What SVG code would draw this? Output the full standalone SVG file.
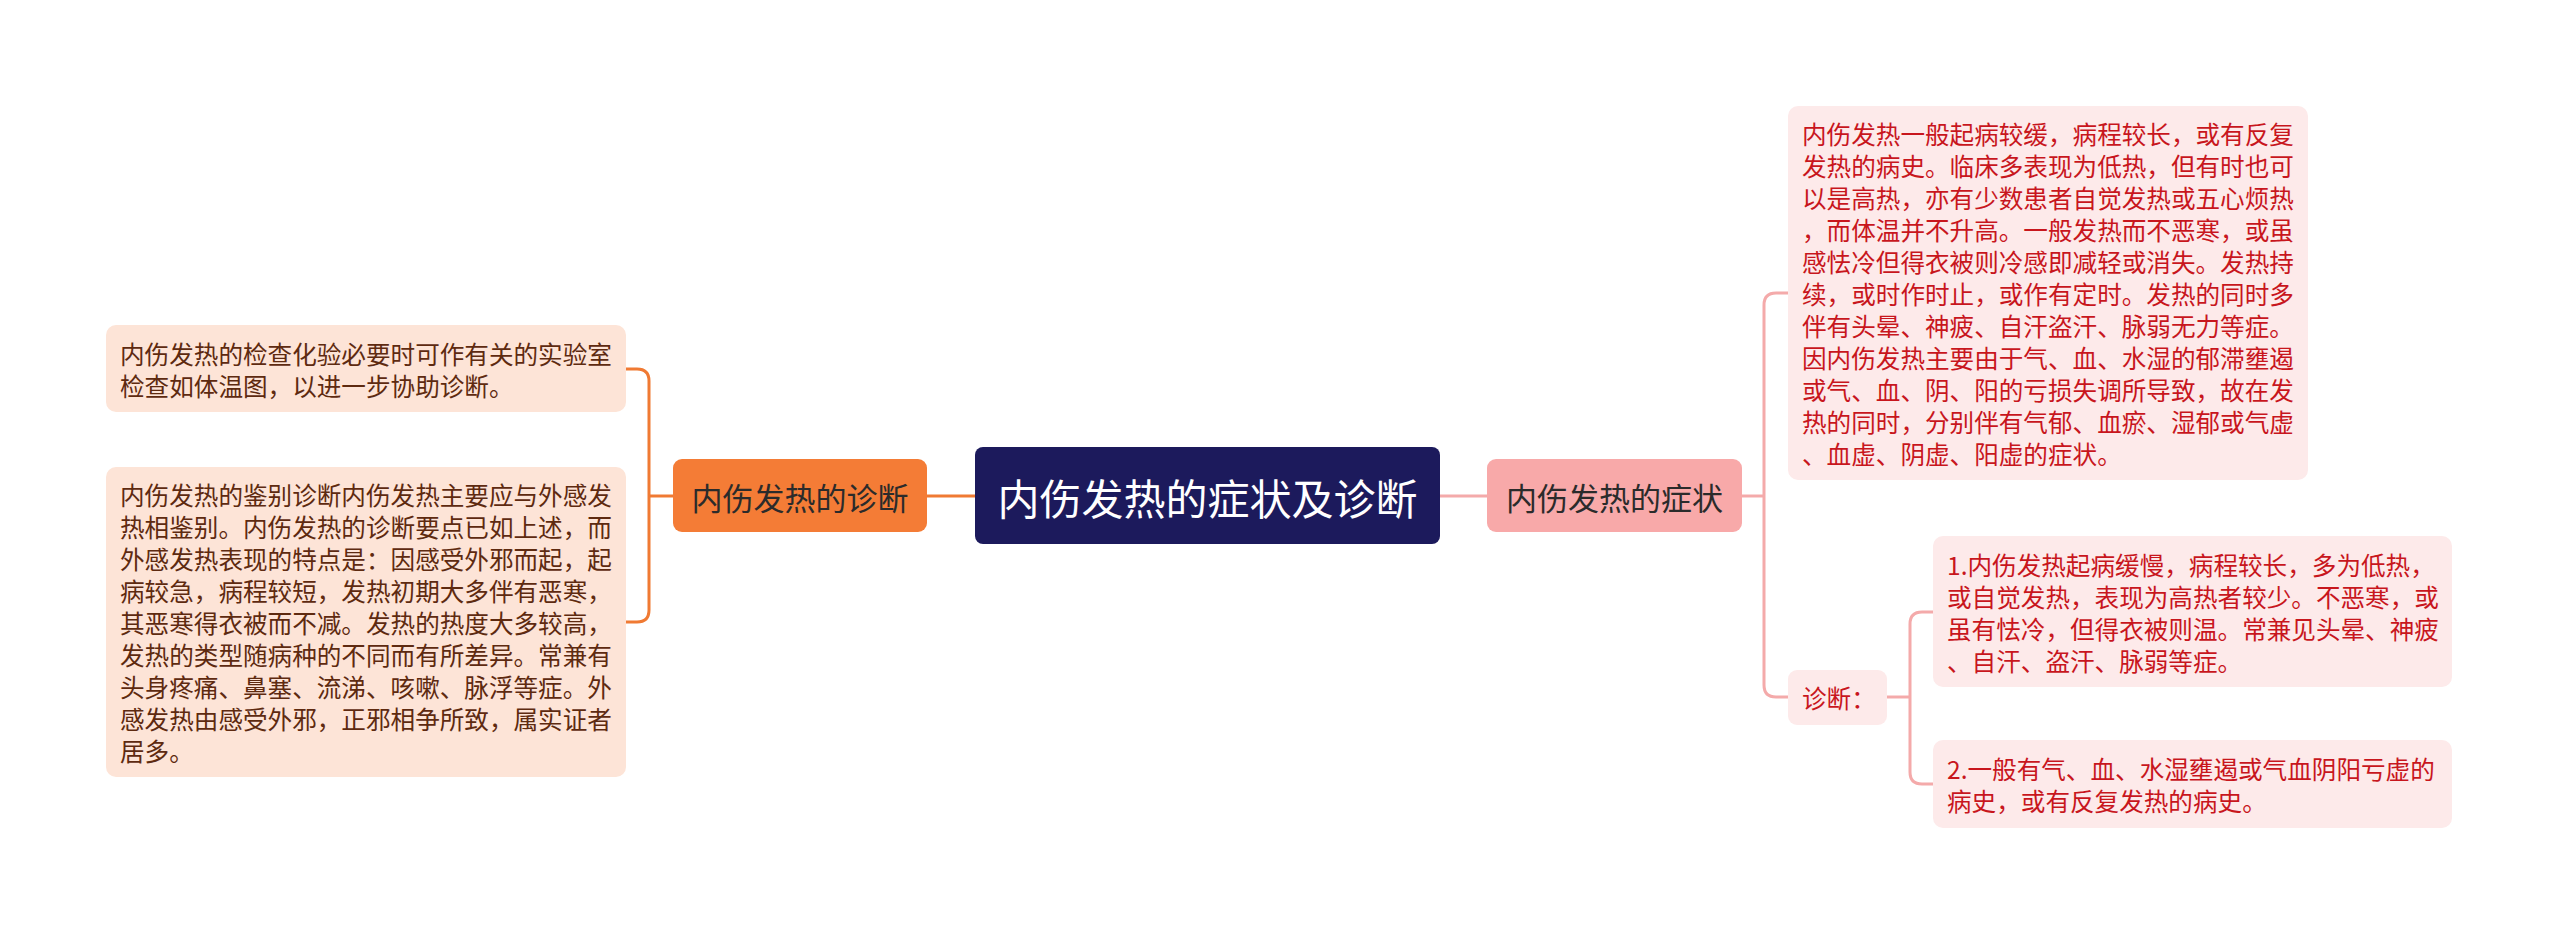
<svg xmlns="http://www.w3.org/2000/svg" width="2560" height="935" viewBox="0 0 2560 935">
<style>
text{font-family:"Noto Sans CJK SC","Noto Sans",sans-serif;dominant-baseline:central}
.leafL rect{fill:#fde4d7}
.leafL text{fill:#5e2a10;font-size:24.6px}
.leafR rect{fill:#fdeaea}
.leafR text{fill:#c8161d;font-size:24.6px}
.cO{fill:none;stroke:#f07a33;stroke-width:3}
.cP{fill:none;stroke:#f4aaaa;stroke-width:3}
</style>
<rect width="2560" height="935" fill="#ffffff"/>
<g id="connectors">
<path class="cO" d="M927 496H975"/>
<path class="cO" d="M673 496H649"/>
<path class="cO" d="M626 369H637Q649 369 649 381V610Q649 622 637 622H626"/>
<path class="cP" d="M1440 496H1487"/>
<path class="cP" d="M1742 496H1764"/>
<path class="cP" d="M1788 293H1776Q1764 293 1764 305V685Q1764 697 1776 697H1788"/>
<path class="cP" d="M1887 697H1910"/>
<path class="cP" d="M1933 612H1922Q1910 612 1910 624V772Q1910 784 1922 784H1933"/>
</g>
<g id="center">
<rect x="975" y="447" width="465" height="97" rx="8" fill="#1c1a5c"/>
<text x="1207.5" y="496" text-anchor="middle" font-size="42" fill="#ffffff">内伤发热的症状及诊断</text>
</g>
<g id="diag">
<rect x="673" y="459" width="254" height="73" rx="9" fill="#f47c36"/>
<text x="800" y="496" text-anchor="middle" font-size="31" fill="#2b2b2b">内伤发热的诊断</text>
</g>
<g id="symp">
<rect x="1487" y="459" width="255" height="73" rx="9" fill="#f8a9a9"/>
<text x="1614.5" y="496" text-anchor="middle" font-size="31" fill="#2b2b2b">内伤发热的症状</text>
</g>
<g id="leafL1" class="leafL">
<rect x="106" y="325" width="520" height="87" rx="10"/>
<text x="120" y="352.5">内伤发热的检查化验必要时可作有关的实验室</text>
<text x="120" y="384.5">检查如体温图，以进一步协助诊断。</text>
</g>
<g id="leafL2" class="leafL">
<rect x="106" y="467" width="520" height="310" rx="10"/>
<text x="120" y="494">内伤发热的鉴别诊断内伤发热主要应与外感发</text>
<text x="120" y="526">热相鉴别。内伤发热的诊断要点已如上述，而</text>
<text x="120" y="558">外感发热表现的特点是：因感受外邪而起，起</text>
<text x="120" y="590">病较急，病程较短，发热初期大多伴有恶寒，</text>
<text x="120" y="622">其恶寒得衣被而不减。发热的热度大多较高，</text>
<text x="120" y="654">发热的类型随病种的不同而有所差异。常兼有</text>
<text x="120" y="686">头身疼痛、鼻塞、流涕、咳嗽、脉浮等症。外</text>
<text x="120" y="718">感发热由感受外邪，正邪相争所致，属实证者</text>
<text x="120" y="750">居多。</text>
</g>
<g id="leafR1" class="leafR">
<rect x="1788" y="106" width="520" height="374" rx="10"/>
<text x="1802" y="133">内伤发热一般起病较缓，病程较长，或有反复</text>
<text x="1802" y="165">发热的病史。临床多表现为低热，但有时也可</text>
<text x="1802" y="197">以是高热，亦有少数患者自觉发热或五心烦热</text>
<text x="1802" y="229">，而体温并不升高。一般发热而不恶寒，或虽</text>
<text x="1802" y="261">感怯冷但得衣被则冷感即减轻或消失。发热持</text>
<text x="1802" y="293">续，或时作时止，或作有定时。发热的同时多</text>
<text x="1802" y="325">伴有头晕、神疲、自汗盗汗、脉弱无力等症。</text>
<text x="1802" y="357">因内伤发热主要由于气、血、水湿的郁滞壅遏</text>
<text x="1802" y="389">或气、血、阴、阳的亏损失调所导致，故在发</text>
<text x="1802" y="421">热的同时，分别伴有气郁、血瘀、湿郁或气虚</text>
<text x="1802" y="453">、血虚、阴虚、阳虚的症状。</text>
</g>
<g id="zd" class="leafR">
<rect x="1788" y="670" width="99" height="55" rx="9"/>
<text x="1802" y="697">诊断：</text>
</g>
<g id="zd1" class="leafR">
<rect x="1933" y="536" width="519" height="151" rx="10"/>
<text x="1947" y="563.5">1.内伤发热起病缓慢，病程较长，多为低热，</text>
<text x="1947" y="595.5">或自觉发热，表现为高热者较少。不恶寒，或</text>
<text x="1947" y="627.5">虽有怯冷，但得衣被则温。常兼见头晕、神疲</text>
<text x="1947" y="659.5">、自汗、盗汗、脉弱等症。</text>
</g>
<g id="zd2" class="leafR">
<rect x="1933" y="740" width="519" height="88" rx="10"/>
<text x="1947" y="768">2.一般有气、血、水湿壅遏或气血阴阳亏虚的</text>
<text x="1947" y="800">病史，或有反复发热的病史。</text>
</g>
</svg>
